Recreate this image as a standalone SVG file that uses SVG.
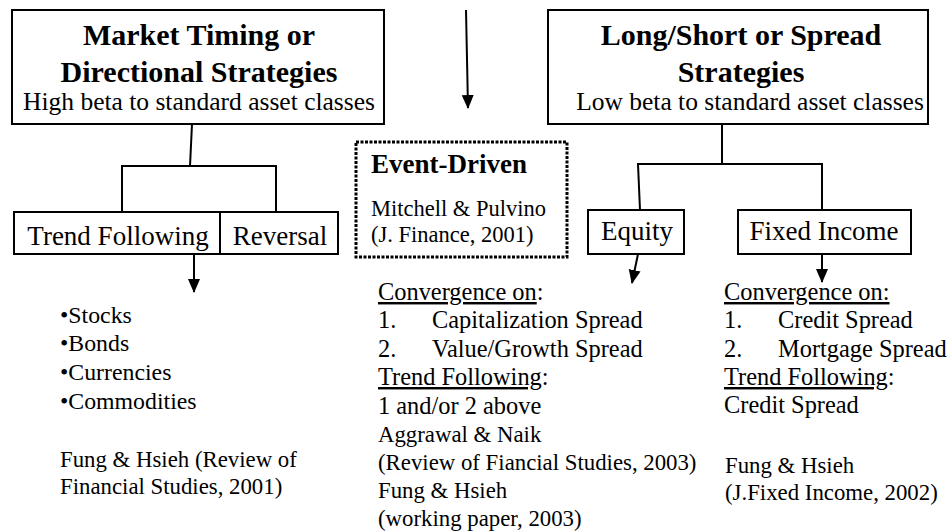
<svg xmlns="http://www.w3.org/2000/svg" width="951" height="532" viewBox="0 0 951 532">
<defs>
<marker id="ah" markerUnits="userSpaceOnUse" markerWidth="14" markerHeight="14" viewBox="0 0 14 14" refX="13" refY="7" orient="auto">
<path d="M0,1 L14,7 L0,13 Z" fill="#000"/>
</marker>
</defs>
<style>
text{fill:#000;font-family:"Liberation Serif","Times New Roman",serif}
.box{fill:#fff;stroke:#000;stroke-width:2}
.title{font-size:30px;font-weight:bold;text-anchor:middle}
.sub{font-size:25.5px;text-anchor:middle}
.lbl{font-size:27px;text-anchor:middle}
.t{font-size:24.4px}
.c{font-size:22.8px}
.u{text-decoration:underline}
.ln{fill:none;stroke:#000;stroke-width:2}
.ar{fill:none;stroke:#000;stroke-width:2;marker-end:url(#ah)}
</style>
<g id="connectors">
<line class="ar" x1="466" y1="10" x2="468" y2="108"/>
<polyline class="ln" points="192,124 190,166"/>
<polyline class="ln" points="122,212 122,166 276,166 276,212"/>
<line class="ar" x1="194" y1="254" x2="194" y2="292"/>
<polyline class="ln" points="722,124 722,164"/>
<polyline class="ln" points="640,210 638,164 822,164 822,210"/>
<line class="ar" x1="638" y1="254" x2="632" y2="283"/>
<line class="ar" x1="822" y1="254" x2="822" y2="282"/>
</g>
<g id="market-timing">
<rect class="box" x="12" y="10" width="372" height="114"/>
<text class="title" x="199" y="45">Market Timing or</text>
<text class="title" x="199" y="82">Directional Strategies</text>
<text class="sub" x="199" y="110">High beta to standard asset classes</text>
</g>
<g id="long-short">
<rect class="box" x="548" y="10" width="380" height="114"/>
<text class="title" x="741" y="45">Long/Short or Spread</text>
<text class="title" x="741" y="82">Strategies</text>
<text class="sub" x="750" y="110">Low beta to standard asset classes</text>
</g>
<g id="trend-following">
<rect class="box" x="14" y="212" width="206" height="42"/>
<text class="lbl" x="118" y="245">Trend Following</text>
</g>
<g id="reversal">
<rect class="box" x="220" y="212" width="118" height="42"/>
<text class="lbl" x="280" y="245">Reversal</text>
</g>
<g id="event-driven">
<rect x="356" y="142" width="211" height="115" fill="#fff" stroke="#000" stroke-width="3" stroke-dasharray="3 1.5"/>
<text x="371" y="173" style="font-size:27px;font-weight:bold">Event-Driven</text>
<text x="371" y="216" style="font-size:22.5px">Mitchell &amp; Pulvino</text>
<text x="371" y="242" style="font-size:22.5px">(J. Finance, 2001)</text>
</g>
<g id="equity">
<rect class="box" x="588" y="210" width="96" height="44"/>
<text class="lbl" x="637" y="240">Equity</text>
</g>
<g id="fixed-income">
<rect class="box" x="738" y="210" width="173" height="44"/>
<text class="lbl" x="824" y="240">Fixed Income</text>
</g>
<g id="markets-list">
<text class="t" x="60" y="323" style="font-size:23.8px">•Stocks</text>
<text class="t" x="60" y="351" style="font-size:23.8px">•Bonds</text>
<text class="t" x="60" y="380" style="font-size:23.8px">•Currencies</text>
<text class="t" x="60" y="409" style="font-size:23.8px">•Commodities</text>
<text class="c" x="60" y="467">Fung &amp; Hsieh (Review of</text>
<text class="c" x="60" y="494">Financial Studies, 2001)</text>
</g>
<g id="equity-list">
<text class="t" x="378" y="300"><tspan class="u">Convergence on</tspan>:</text>
<text class="t" y="328"><tspan x="378">1.</tspan><tspan x="432">Capitalization  Spread</tspan></text>
<text class="t" y="357"><tspan x="378">2.</tspan><tspan x="432">Value/Growth Spread</tspan></text>
<text class="t" x="378" y="385"><tspan class="u">Trend Following</tspan>:</text>
<text class="t" x="378" y="414">1 and/or 2 above</text>
<text class="c" x="378" y="442">Aggrawal &amp; Naik</text>
<text class="c" x="378" y="470">(Review of Fiancial Studies, 2003)</text>
<text class="c" x="378" y="498">Fung &amp; Hsieh</text>
<text class="c" x="378" y="526">(working paper, 2003)</text>
</g>
<g id="fixed-income-list">
<text class="t" x="724" y="300"><tspan class="u">Convergence on:</tspan></text>
<text class="t" y="328"><tspan x="724">1.</tspan><tspan x="778">Credit Spread</tspan></text>
<text class="t" y="357"><tspan x="724">2.</tspan><tspan x="778">Mortgage Spread</tspan></text>
<text class="t" x="724" y="385"><tspan class="u">Trend Following</tspan>:</text>
<text class="t" x="724" y="413">Credit Spread</text>
<text class="c" x="725" y="473">Fung &amp; Hsieh</text>
<text class="c" x="725" y="500">(J.Fixed Income, 2002)</text>
</g>
</svg>
